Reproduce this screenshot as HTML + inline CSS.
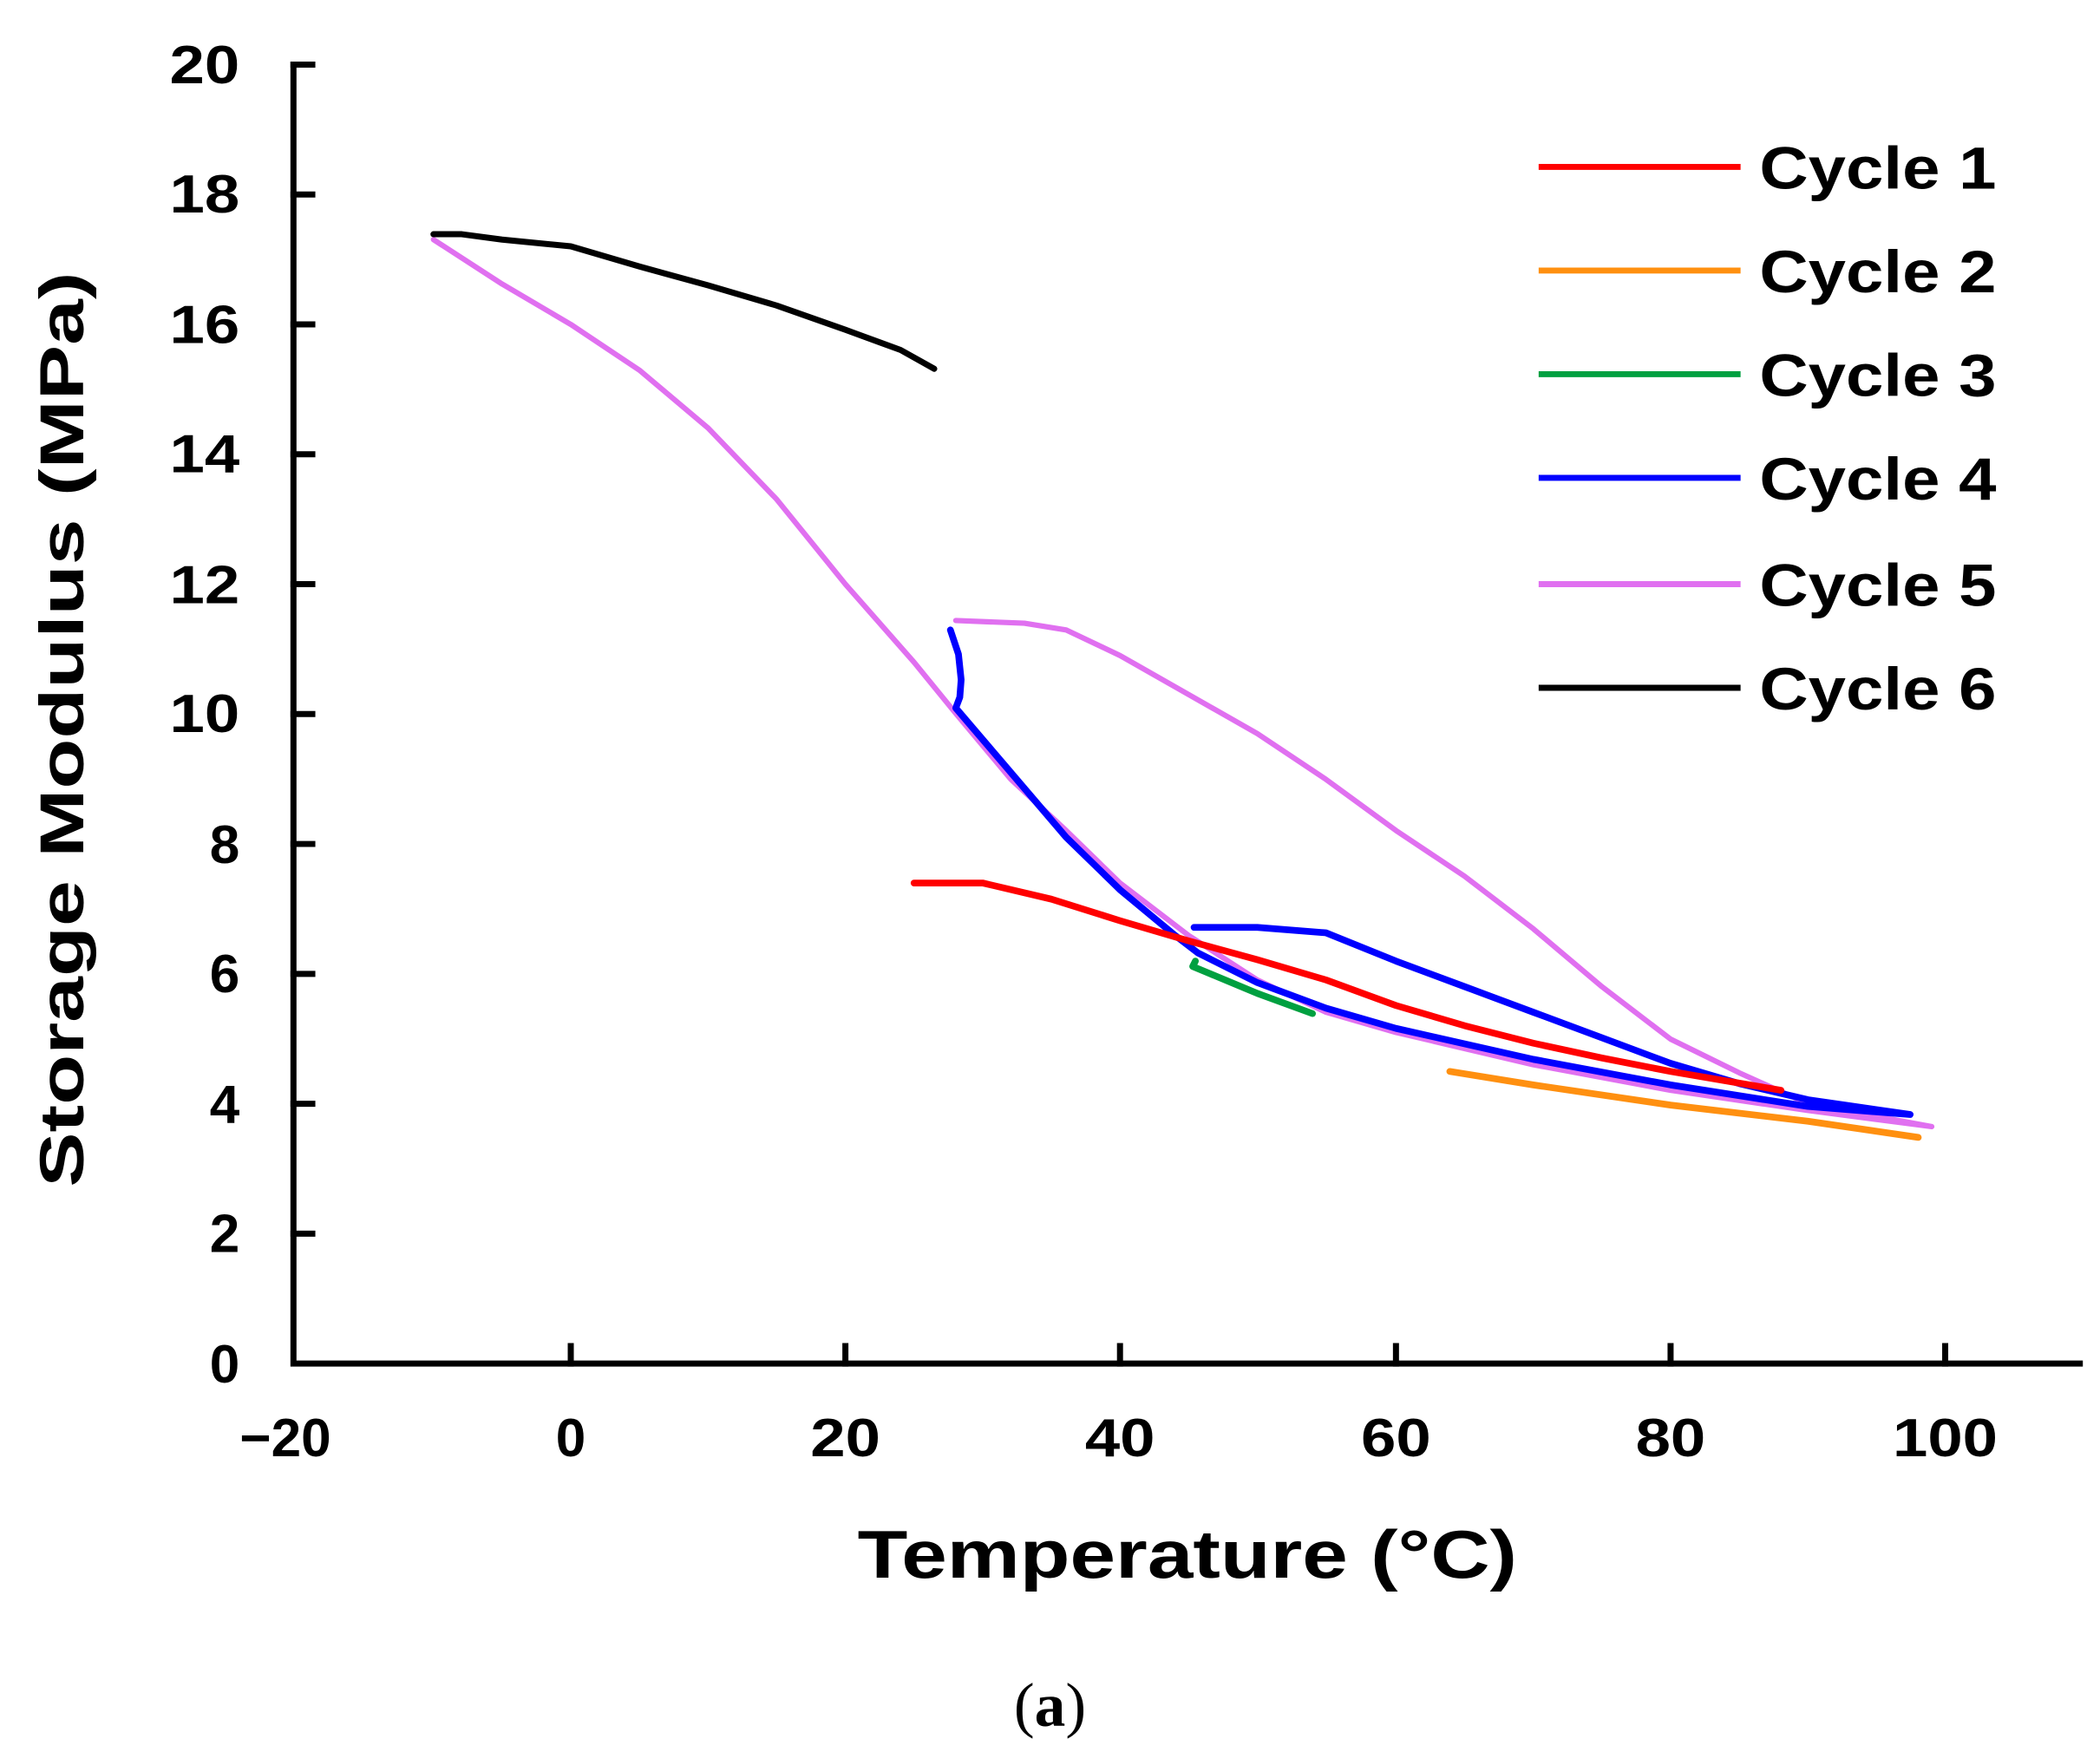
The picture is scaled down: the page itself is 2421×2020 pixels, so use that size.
<!DOCTYPE html>
<html><head><meta charset="utf-8"><style>
html,body{margin:0;padding:0;background:#fff;}
svg{display:block;}
text{font-family:"Liberation Sans",Arial,sans-serif;font-weight:bold;fill:#000;}
</style></head><body>
<svg width="2421" height="2020" viewBox="0 0 1560 1301.6" preserveAspectRatio="none" xmlns="http://www.w3.org/2000/svg">
<rect width="1560" height="1302" fill="#fff"/>
<g stroke="#000" stroke-width="4.5" fill="none" stroke-linecap="square">
<path d="M218,48 L218,1013 L1545,1013"/>
<path d="M218,48 h14 M218,144.5 h14 M218,241 h14 M218,337.5 h14 M218,434 h14 M218,530.5 h14 M218,627 h14 M218,723.5 h14 M218,820 h14 M218,916.5 h14"/>
<path d="M424,1013 v-13 M628,1013 v-13 M832,1013 v-13 M1037,1013 v-13 M1241,1013 v-13 M1445,1013 v-13"/>
</g>
<g font-size="40" text-anchor="end">
<text x="178" y="62" textLength="52" lengthAdjust="spacingAndGlyphs">20</text>
<text x="178" y="158" textLength="52" lengthAdjust="spacingAndGlyphs">18</text>
<text x="178" y="255" textLength="52" lengthAdjust="spacingAndGlyphs">16</text>
<text x="178" y="351" textLength="52" lengthAdjust="spacingAndGlyphs">14</text>
<text x="178" y="448" textLength="52" lengthAdjust="spacingAndGlyphs">12</text>
<text x="178" y="544" textLength="52" lengthAdjust="spacingAndGlyphs">10</text>
<text x="178" y="641">8</text>
<text x="178" y="737">6</text>
<text x="178" y="834">4</text>
<text x="178" y="930">2</text>
<text x="178" y="1027">0</text>
</g>
<g font-size="40" text-anchor="middle">
<text x="212" y="1082">−20</text>
<text x="424" y="1082">0</text>
<text x="628" y="1082" textLength="52" lengthAdjust="spacingAndGlyphs">20</text>
<text x="832" y="1082" textLength="52" lengthAdjust="spacingAndGlyphs">40</text>
<text x="1037" y="1082" textLength="52" lengthAdjust="spacingAndGlyphs">60</text>
<text x="1241" y="1082" textLength="52" lengthAdjust="spacingAndGlyphs">80</text>
<text x="1445" y="1082" textLength="78" lengthAdjust="spacingAndGlyphs">100</text>
</g>
<text x="882" y="1172" font-size="50" text-anchor="middle" textLength="490" lengthAdjust="spacingAndGlyphs">Temperature (°C)</text>
<text transform="translate(62,542) rotate(-90)" font-size="46" text-anchor="middle" textLength="680" lengthAdjust="spacingAndGlyphs">Storage Modulus (MPa)</text>
<text x="780" y="1282" font-size="46" text-anchor="middle" style="font-family:'Liberation Serif',serif;font-weight:normal">(<tspan font-weight="bold">a</tspan>)</text>
<g stroke-width="4.5" fill="none" stroke-linejoin="round">
<line x1="1143" y1="124" x2="1293" y2="124" stroke="#ff0000"/>
<line x1="1143" y1="201" x2="1293" y2="201" stroke="#ff9010"/>
<line x1="1143" y1="278" x2="1293" y2="278" stroke="#00a040"/>
<line x1="1143" y1="355" x2="1293" y2="355" stroke="#0000ff"/>
<line x1="1143" y1="434" x2="1293" y2="434" stroke="#e070f0"/>
<line x1="1143" y1="511" x2="1293" y2="511" stroke="#000"/>
</g>
<g font-size="44">
<text x="1307" y="140" textLength="176" lengthAdjust="spacingAndGlyphs">Cycle 1</text>
<text x="1307" y="217" textLength="176" lengthAdjust="spacingAndGlyphs">Cycle 2</text>
<text x="1307" y="294" textLength="176" lengthAdjust="spacingAndGlyphs">Cycle 3</text>
<text x="1307" y="371" textLength="176" lengthAdjust="spacingAndGlyphs">Cycle 4</text>
<text x="1307" y="450" textLength="176" lengthAdjust="spacingAndGlyphs">Cycle 5</text>
<text x="1307" y="527" textLength="176" lengthAdjust="spacingAndGlyphs">Cycle 6</text>
</g>
<g fill="none" stroke-linejoin="round" stroke-linecap="round">
<polyline stroke="#ff9010" stroke-width="5" points="1077,796 1139,806 1241,821 1343,833 1425,845"/>
<polyline stroke="#e070f0" stroke-width="4" points="322,178 373,211 424,241 475,275 526,318 577,371 628,434 679,492 710,530 751,579 792,617 832,656 883,695 934,728 985,752 1037,767 1139,791 1241,810 1343,825 1435,837 1343,820 1292,797 1241,772 1190,733 1139,690 1088,651 1037,617 985,579 934,545 883,516 832,487 792,468 761,463 710,461"/>
<polyline stroke="#0000ff" stroke-width="5" points="706,468 712,486 714,505 713,518 710,526 751,574 792,622 832,661 873,695 890,708 934,730 985,749 1037,764 1139,787 1241,806 1343,822 1419,828 1343,817 1292,805 1241,790 1190,771 1139,752 1088,733 1037,714 985,693 934,689 887,689"/>
<polyline stroke="#ff0000" stroke-width="5" points="679,656 730,656 781,668 832,684 883,699 934,713 985,728 1037,747 1088,762 1139,775 1190,786 1241,796 1323,810"/>
<polyline stroke="#00a040" stroke-width="5" points="888,714 886,718 898,723 934,738 975,753"/>
<polyline stroke="#000" stroke-width="4.5" points="322,174 343,174 373,178 424,183 475,198 526,212 577,227 628,245 669,260 694,274"/>
</g>
</svg>
</body></html>
